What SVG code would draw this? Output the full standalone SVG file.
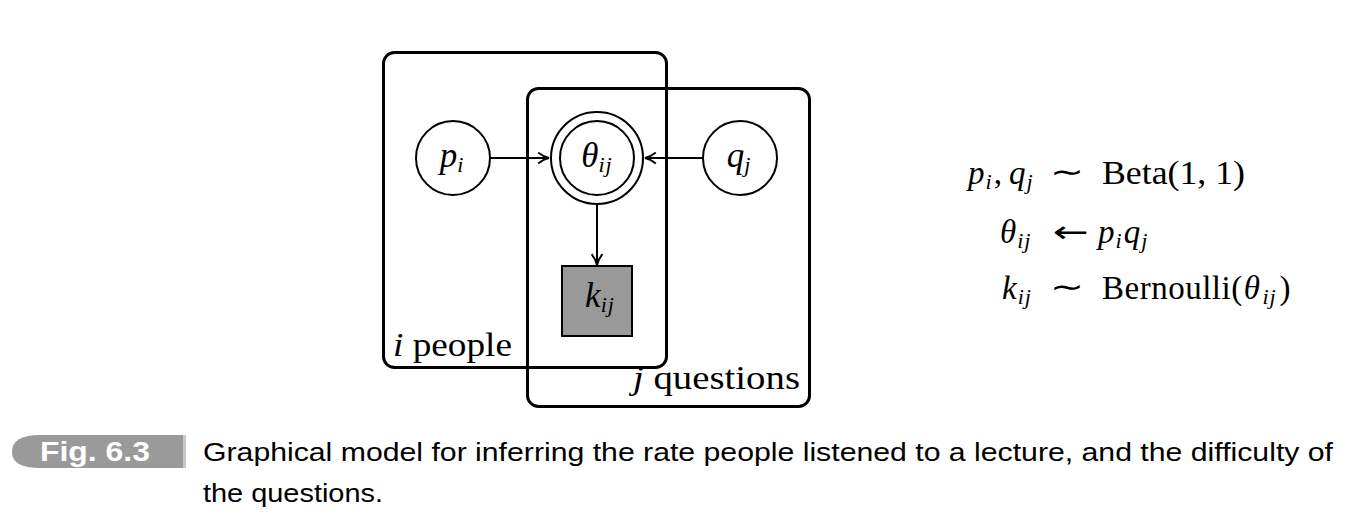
<svg xmlns="http://www.w3.org/2000/svg" width="1354" height="532" viewBox="0 0 1354 532">
<style>
.plate{fill:none;stroke:#000;stroke-width:3}
.node{fill:#fff;stroke:#000;stroke-width:2}
.edge{fill:none;stroke:#000;stroke-width:2}
.m{font-family:"Liberation Serif","DejaVu Serif",serif;font-size:33px;fill:#000}
.nl{font-size:35px}
.it{font-style:italic}
.sub{font-size:22px;letter-spacing:1px}
.op{font-family:"DejaVu Sans","Liberation Sans",sans-serif;font-size:30px;fill:#000}
.cap{font-family:"Liberation Sans","DejaVu Sans",sans-serif;font-size:26px;fill:#000}
</style>
<defs>
<marker id="arr" viewBox="0 0 12 12" refX="11" refY="6" markerWidth="13" markerHeight="13" markerUnits="userSpaceOnUse" orient="auto">
<path d="M1,1 Q6,5 11,6 Q6,7 1,11" fill="none" stroke="#000" stroke-width="1.8"/>
</marker>
</defs>
<rect width="1354" height="532" fill="#fff"/>
<g id="plate-people">
<rect class="plate" x="383.5" y="52.5" width="283" height="315" rx="11"/>
<text class="m" x="393" y="356" textLength="119" lengthAdjust="spacingAndGlyphs"><tspan class="it">i</tspan> people</text>
</g>
<g id="plate-questions">
<rect class="plate" x="527.5" y="88.5" width="282" height="318" rx="11"/>
<text class="m" x="633" y="389" textLength="167" lengthAdjust="spacingAndGlyphs"><tspan class="it">j</tspan> questions</text>
</g>
<g id="connectors">
<line class="edge" x1="490" y1="158" x2="549" y2="158" marker-end="url(#arr)"/>
<line class="edge" x1="703" y1="158" x2="645" y2="158" marker-end="url(#arr)"/>
<line class="edge" x1="597" y1="205" x2="597" y2="265" marker-end="url(#arr)"/>
</g>
<g id="node-p">
<circle class="node" cx="453" cy="158" r="37"/>
<text class="m nl it" x="452" y="167" text-anchor="middle">p<tspan class="sub" dy="5">i</tspan></text>
</g>
<g id="node-theta">
<circle class="node" cx="597" cy="158" r="46"/>
<circle class="node" cx="597" cy="158" r="37"/>
<text class="m nl it" x="597" y="167" text-anchor="middle">θ<tspan class="sub" dy="5">ij</tspan></text>
</g>
<g id="node-q">
<circle class="node" cx="740" cy="158" r="37"/>
<text class="m nl it" x="739" y="167" text-anchor="middle">q<tspan class="sub" dy="5">j</tspan></text>
</g>
<g id="node-k">
<rect x="562" y="266" width="70" height="70" fill="#999" stroke="#000" stroke-width="2"/>
<text class="m nl it" x="600" y="307" text-anchor="middle">k<tspan class="sub" dy="5">ij</tspan></text>
</g>
<g id="equations">
<text class="m it" x="968" y="184">p<tspan class="sub" dx="1" dy="5">i</tspan><tspan dx="1" dy="-5" font-style="normal">,</tspan><tspan dx="7">q</tspan><tspan class="sub" dx="1" dy="5">j</tspan></text>
<text class="op" x="1050" y="182" textLength="34" lengthAdjust="spacingAndGlyphs">∼</text>
<text class="m" x="1102" y="184" textLength="143" lengthAdjust="spacingAndGlyphs">Beta(1, 1)</text>
<text class="m it" x="1000" y="243">θ<tspan class="sub" dx="1" dy="5">ij</tspan></text>
<text class="op" x="1053" y="242" textLength="36" lengthAdjust="spacingAndGlyphs">←</text>
<text class="m it" x="1098" y="243">p<tspan class="sub" dx="1" dy="5">i</tspan><tspan dx="1" dy="-5">q</tspan><tspan class="sub" dx="1" dy="5">j</tspan></text>
<text class="m it" x="1002" y="299">k<tspan class="sub" dx="1" dy="5">ij</tspan></text>
<text class="op" x="1050" y="297" textLength="34" lengthAdjust="spacingAndGlyphs">∼</text>
<text class="m" x="1102" y="299" letter-spacing="0.5">Bernoulli(<tspan class="it" dx="1">θ</tspan><tspan class="it sub" dx="2" dy="5">ij</tspan><tspan dx="3" dy="-5">)</tspan></text>
</g>
<g id="caption">
<path d="M183,435 L40,435 Q12,435 12,452 Q12,468 40,468 L183,468 Z" fill="#9a9a9a"/>
<rect x="183" y="435" width="3" height="33" fill="#c8c8c8"/>
<text x="40" y="461" font-family="Liberation Sans, DejaVu Sans, sans-serif" font-size="27" font-weight="bold" fill="#fff" textLength="110" lengthAdjust="spacingAndGlyphs">Fig. 6.3</text>
<text class="cap" x="203" y="461" textLength="1130" lengthAdjust="spacingAndGlyphs">Graphical model for inferring the rate people listened to a lecture, and the difficulty of</text>
<text class="cap" x="203" y="502" textLength="180" lengthAdjust="spacingAndGlyphs">the questions.</text>
</g>
</svg>
